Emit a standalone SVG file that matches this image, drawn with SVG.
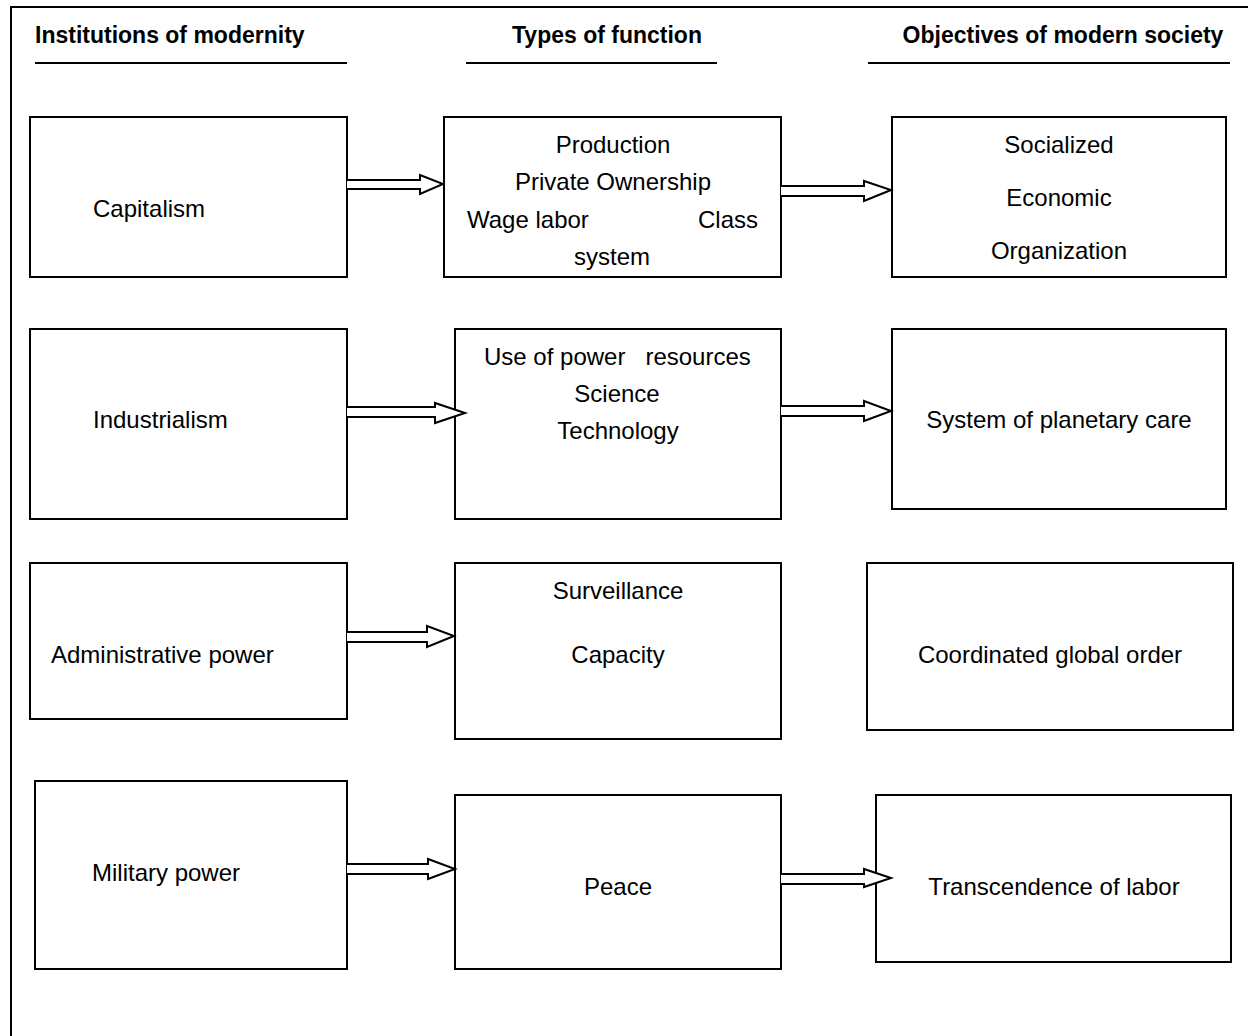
<svg xmlns="http://www.w3.org/2000/svg" width="1248" height="1036" viewBox="0 0 1248 1036">
<style>
.frame{fill:none;stroke:#000;stroke-width:2}
.box{fill:#fff;stroke:#000;stroke-width:2}
.arrow{fill:#fff;stroke:#000;stroke-width:2;stroke-linejoin:miter}
.hd{font-family:"Liberation Sans",Arial,sans-serif;font-size:23px;font-weight:bold;fill:#000}
.t{font-family:"Liberation Sans",Arial,sans-serif;font-size:24px;fill:#000}
.c{text-anchor:middle}
.ul{stroke:#000;stroke-width:2}
</style>
<rect width="1248" height="1036" fill="#fff"/>
<path class="frame" d="M11,1036 V7 H1248"/>
<g id="headers">
<text class="hd" x="35" y="43">Institutions of modernity</text>
<line class="ul" x1="35" y1="63" x2="347" y2="63"/>
<text class="hd c" x="607" y="43">Types of function</text>
<line class="ul" x1="466" y1="63" x2="717" y2="63"/>
<text class="hd c" x="1063" y="43">Objectives of modern society</text>
<line class="ul" x1="868" y1="63" x2="1230" y2="63"/>
</g>
<g id="capitalism"><rect class="box" x="30" y="117" width="317" height="160"/><text class="t" x="93" y="217">Capitalism</text></g>
<g id="production"><rect class="box" x="444" y="117" width="337" height="160"/>
<text class="t c" x="613" y="153">Production</text>
<text class="t c" x="613" y="190">Private Ownership</text>
<text class="t" x="467" y="228">Wage labor</text>
<text class="t" x="758" y="228" text-anchor="end">Class</text>
<text class="t c" x="612" y="265">system</text></g>
<g id="socialized"><rect class="box" x="892" y="117" width="334" height="160"/>
<text class="t c" x="1059" y="153">Socialized</text>
<text class="t c" x="1059" y="206">Economic</text>
<text class="t c" x="1059" y="259">Organization</text></g>
<g id="industrialism"><rect class="box" x="30" y="329" width="317" height="190"/><text class="t" x="93" y="428">Industrialism</text></g>
<g id="use-of-power"><rect class="box" x="455" y="329" width="326" height="190"/>
<text class="t" x="484" y="365" xml:space="preserve">Use of power   resources</text>
<text class="t c" x="617" y="402">Science</text>
<text class="t c" x="618" y="439">Technology</text></g>
<g id="planetary-care"><rect class="box" x="892" y="329" width="334" height="180"/>
<text class="t c" x="1059" y="428">System of planetary care</text></g>
<g id="administrative"><rect class="box" x="30" y="563" width="317" height="156"/><text class="t" x="51" y="663">Administrative power</text></g>
<g id="surveillance"><rect class="box" x="455" y="563" width="326" height="176"/>
<text class="t c" x="618" y="599">Surveillance</text>
<text class="t c" x="618" y="663">Capacity</text></g>
<g id="global-order"><rect class="box" x="867" y="563" width="366" height="167"/>
<text class="t c" x="1050" y="663">Coordinated global order</text></g>
<g id="military"><rect class="box" x="35" y="781" width="312" height="188"/><text class="t" x="92" y="881">Military power</text></g>
<g id="peace"><rect class="box" x="455" y="795" width="326" height="174"/>
<text class="t c" x="618" y="895">Peace</text></g>
<g id="transcendence"><rect class="box" x="876" y="795" width="355" height="167"/>
<text class="t c" x="1054" y="895">Transcendence of labor</text></g>
<g id="connectors">
<path class="arrow" d="M347,180 H420 V175 L443,184 L420,194 V189 H347"/>
<path class="arrow" d="M781,186 H864 V181 L891,190 L864,201 V196 H781"/>
<path class="arrow" d="M347,407 H435 V403 L465,413 L435,423 V417 H347"/>
<path class="arrow" d="M781,406 H864 V401 L891,411 L864,421 V416 H781"/>
<path class="arrow" d="M347,632 H427 V626 L454,636 L427,647 V642 H347"/>
<path class="arrow" d="M347,864 H428 V859 L455,869 L428,879 V874 H347"/>
<path class="arrow" d="M781,874 H864 V869 L891,878 L864,887 V884 H781"/>
</g>
</svg>
